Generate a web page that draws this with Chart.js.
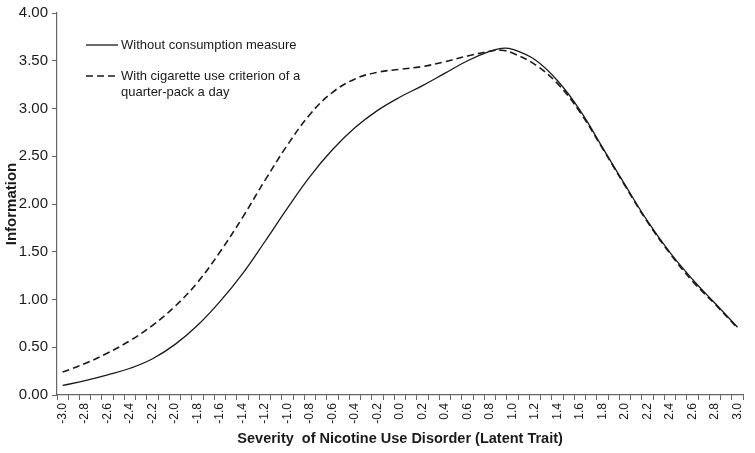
<!DOCTYPE html>
<html lang="en">
<head>
  <meta charset="UTF-8" />
  <title>Information curves</title>
  <script src="https://cdn.jsdelivr.net/npm/chart.js"></script>
  <style>
    body { margin: 0; background: #fff; }
    #wrap { width: 755px; height: 453px; }
  </style>
</head>
<body>
  <div id="wrap"><canvas id="infoChart" width="755" height="453"></canvas></div>

  <script>
    // x axis categories (-3.0 .. 3.0 by 0.1), labels shown every 0.2
    const categories = [
      '-3.0','-2.9','-2.8','-2.7','-2.6','-2.5','-2.4','-2.3','-2.2','-2.1',
      '-2.0','-1.9','-1.8','-1.7','-1.6','-1.5','-1.4','-1.3','-1.2','-1.1',
      '-1.0','-0.9','-0.8','-0.7','-0.6','-0.5','-0.4','-0.3','-0.2','-0.1',
      '0.0','0.1','0.2','0.3','0.4','0.5','0.6','0.7','0.8','0.9',
      '1.0','1.1','1.2','1.3','1.4','1.5','1.6','1.7','1.8','1.9',
      '2.0','2.1','2.2','2.3','2.4','2.5','2.6','2.7','2.8','2.9','3.0'
    ];

    // points
    const seriesX = [
      '-3.0','-2.8','-2.6','-2.4','-2.2','-2.0','-1.8','-1.6','-1.4','-1.2',
      '-1.0','-0.8','-0.6','-0.4','-0.2','0.0','0.2','0.4','0.6','0.8','0.9',
      '1.0','1.2','1.4','1.6','1.8','2.0','2.2','2.4','2.6','2.8','3.0'
    ];
    const withoutConsumption = [
      0.10, 0.15, 0.21, 0.28, 0.38, 0.53, 0.73, 0.98, 1.27, 1.61,
      1.96, 2.29, 2.57, 2.80, 2.98, 3.12, 3.24, 3.37, 3.50, 3.60, 3.63,
      3.62, 3.51, 3.29, 2.98, 2.59, 2.20, 1.82, 1.49, 1.21, 0.96, 0.71
    ];
    const withCigCriterion = [
      0.24, 0.33, 0.44, 0.57, 0.73, 0.93, 1.18, 1.50, 1.86, 2.25,
      2.62, 2.94, 3.17, 3.31, 3.38, 3.41, 3.44, 3.49, 3.55, 3.60, 3.61,
      3.58, 3.46, 3.26, 2.96, 2.58, 2.19, 1.81, 1.48, 1.19, 0.95, 0.70
    ];

    const yTicks = [0, 0.5, 1, 1.5, 2, 2.5, 3, 3.5, 4];

    const legendLines = [
      ['Without consumption measure'],
      ['With cigarette use criterion of a', 'quarter-pack a day']
    ];

    const toPoints = vals => vals.map((v, i) => ({ x: seriesX[i], y: v }));

    // legend drawn by hand so the second label can wrap like the original
    const wrapLegend = {
      id: 'wrapLegend',
      afterDatasetsDraw(chart) {
        const ctx = chart.ctx;
        const rows = [45, 76];
        ctx.save();
        ctx.font = '13px "Liberation Sans", Arial, sans-serif';
        ctx.fillStyle = '#1a1a1a';
        ctx.textBaseline = 'middle';
        chart.data.datasets.forEach((ds, i) => {
          const y = rows[i];
          ctx.strokeStyle = ds.borderColor;
          ctx.lineWidth = ds.borderWidth;
          ctx.setLineDash(ds.borderDash || []);
          ctx.beginPath();
          ctx.moveTo(86, y);
          ctx.lineTo(118, y);
          ctx.stroke();
          legendLines[i].forEach((t, j) => ctx.fillText(t, 121, y + j * 16));
        });
        ctx.restore();
      }
    };

    new Chart(document.getElementById('infoChart'), {
      type: 'line',
      data: {
        labels: categories,
        datasets: [{
          label: legendLines[0].join(' '),
          data: toPoints(withoutConsumption),
          borderColor: '#1a1a1a',
          borderWidth: 1.3,
          pointRadius: 0,
          tension: 0.4,
          fill: false
        }, {
          label: legendLines[1].join(' '),
          data: toPoints(withCigCriterion),
          borderColor: '#1a1a1a',
          borderWidth: 1.6,
          borderDash: [7, 4],
          pointRadius: 0,
          tension: 0.4,
          fill: false
        }]
      },
      options: {
        responsive: false,
        animation: false,
        layout: { padding: { top: 7, right: 3, bottom: 0, left: 0 } },
        plugins: {
          legend: { display: false },
          tooltip: { enabled: false }
        },
        scales: {
          x: {
            type: 'category',
            offset: true,
            grid: { drawOnChartArea: false, tickLength: 5, color: '#666', offset: true },
            border: { color: '#666', width: 1.2 },
            ticks: {
              autoSkip: false,
              minRotation: 90,
              maxRotation: 90,
              padding: 3,
              color: '#1a1a1a',
              font: { family: '"Liberation Sans", Arial, sans-serif', size: 12 },
              callback: function (val, i) { return i % 2 ? '' : this.getLabelForValue(val); }
            },
            title: {
              display: true,
              text: 'Severity  of Nicotine Use Disorder (Latent Trait)',
              color: '#1a1a1a',
              font: { family: '"Liberation Sans", Arial, sans-serif', size: 14.5, weight: 'bold' },
              padding: { top: 2, bottom: 5 }
            },
            afterFit: s => { s.height = 58; }
          },
          y: {
            min: 0,
            max: 4,
            afterBuildTicks: s => { s.ticks = yTicks.map(v => ({ value: v })); },
            grid: { drawOnChartArea: false, tickLength: 5, color: '#666' },
            border: { color: '#666', width: 1.2 },
            ticks: {
              padding: 4,
              color: '#1a1a1a',
              font: { family: '"Liberation Sans", Arial, sans-serif', size: 15 },
              callback: v => v.toFixed(2)
            },
            title: {
              display: true,
              text: 'Information',
              color: '#1a1a1a',
              font: { family: '"Liberation Sans", Arial, sans-serif', size: 15, weight: 'bold' },
              padding: { top: 3, bottom: 0 }
            },
            afterFit: s => { s.width = 57; }
          }
        }
      },
      plugins: [wrapLegend]
    });
  </script>
</body>
</html>
